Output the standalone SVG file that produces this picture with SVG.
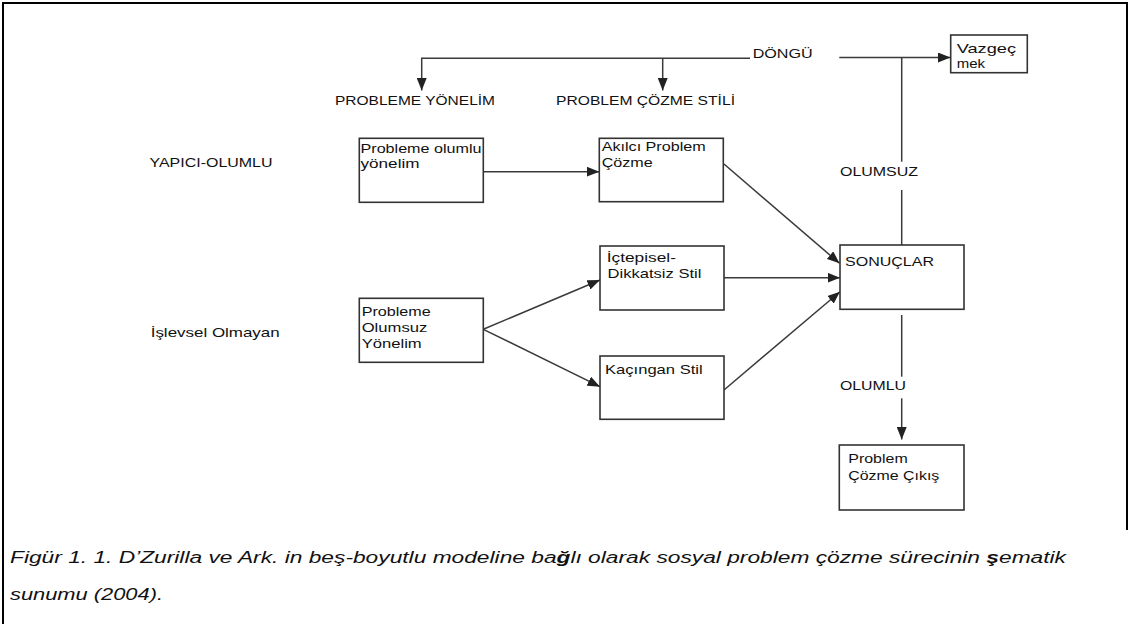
<svg xmlns="http://www.w3.org/2000/svg" width="1130" height="624" viewBox="0 0 1130 624">
<defs>
<marker id="ah" markerUnits="userSpaceOnUse" markerWidth="13" markerHeight="10" refX="12.5" refY="5" orient="auto">
<path d="M0,0 L12.5,5 L0,10 z" fill="#222"/>
</marker>
<style>
.box{fill:#fff;stroke:#333;stroke-width:1.6}
.t{font-family:"Liberation Sans",Arial,sans-serif;font-size:13px;fill:#111}
.c{fill:none;stroke:#3a3a3a;stroke-width:1.5}
.a{fill:none;stroke:#3a3a3a;stroke-width:1.5;marker-end:url(#ah)}
.cap{font-family:"Liberation Sans",Arial,sans-serif;font-size:16px;font-style:italic;fill:#111}
.frame{fill:none;stroke:#000;stroke-width:2}
</style>
</defs>
<rect width="1130" height="624" fill="#fff"/>
<g id="frame">
<path class="frame" d="M3,624 V3 H1127 V530"/>
</g>
<g id="connectors">
<path class="a" d="M750,58.3 H421.7 V90.5"/>
<path class="a" d="M662.7,58.3 V90.5"/>
<path class="a" d="M839.3,57.5 H950.5"/>
<path class="c" d="M901.7,57.5 V161.7"/>
<path class="c" d="M901.7,190 V245"/>
<path class="c" d="M901.7,315 V376.7"/>
<path class="a" d="M901.7,398.3 V439.5"/>
<path class="a" d="M483.3,171.7 H599.3"/>
<path class="a" d="M483.3,329.3 L600,280"/>
<path class="a" d="M483.3,329.3 L600,386.7"/>
<path class="a" d="M724,164 L839.5,263.3"/>
<path class="a" d="M724,277.7 H840"/>
<path class="a" d="M724,390 L840,291.7"/>
</g>
<g id="label-probleme-yonelim"><text class="t" x="335" y="105" textLength="160" lengthAdjust="spacingAndGlyphs">PROBLEME YÖNELİM</text></g>
<g id="label-problem-cozme-stili"><text class="t" x="556" y="105" textLength="179" lengthAdjust="spacingAndGlyphs">PROBLEM ÇÖZME STİLİ</text></g>
<g id="label-dongu"><text class="t" x="752.7" y="58" textLength="60" lengthAdjust="spacingAndGlyphs">DÖNGÜ</text></g>
<g id="label-olumsuz"><text class="t" x="840" y="175.7" textLength="78" lengthAdjust="spacingAndGlyphs">OLUMSUZ</text></g>
<g id="label-olumlu"><text class="t" x="840" y="390" textLength="66" lengthAdjust="spacingAndGlyphs">OLUMLU</text></g>
<g id="label-yapici"><text class="t" x="149.5" y="166.7" textLength="123" lengthAdjust="spacingAndGlyphs">YAPICI-OLUMLU</text></g>
<g id="label-islevsel"><text class="t" x="150.7" y="336.7" textLength="129" lengthAdjust="spacingAndGlyphs">İşlevsel Olmayan</text></g>
<g id="node-olumlu-yonelim">
<rect class="box" x="359.3" y="138.3" width="124" height="64"/>
<text class="t" x="360.5" y="153.3" textLength="121" lengthAdjust="spacingAndGlyphs">Probleme olumlu</text>
<text class="t" x="360.5" y="168.3" textLength="59" lengthAdjust="spacingAndGlyphs">yönelim</text>
</g>
<g id="node-akilci">
<rect class="box" x="599.3" y="138.3" width="124" height="63.4"/>
<text class="t" x="601.7" y="150.7" textLength="104" lengthAdjust="spacingAndGlyphs">Akılcı Problem</text>
<text class="t" x="601.7" y="166.7" textLength="51" lengthAdjust="spacingAndGlyphs">Çözme</text>
</g>
<g id="node-olumsuz-yonelim">
<rect class="box" x="359.3" y="298.3" width="124" height="64"/>
<text class="t" x="361.7" y="316" textLength="69" lengthAdjust="spacingAndGlyphs">Probleme</text>
<text class="t" x="361.7" y="331.7" textLength="65.6" lengthAdjust="spacingAndGlyphs">Olumsuz</text>
<text class="t" x="361.7" y="348.3" textLength="60" lengthAdjust="spacingAndGlyphs">Yönelim</text>
</g>
<g id="node-ictepisel">
<rect class="box" x="600" y="246" width="124" height="64"/>
<text class="t" x="606.7" y="261.7" textLength="69.3" lengthAdjust="spacingAndGlyphs">İçtepisel-</text>
<text class="t" x="607.5" y="278.3" textLength="94" lengthAdjust="spacingAndGlyphs">Dikkatsiz Stil</text>
</g>
<g id="node-kacingan">
<rect class="box" x="600" y="356" width="124" height="63.3"/>
<text class="t" x="605" y="374" textLength="97.7" lengthAdjust="spacingAndGlyphs">Kaçıngan Stil</text>
</g>
<g id="node-sonuclar">
<rect class="box" x="840" y="245" width="124" height="64.3"/>
<text class="t" x="845" y="266" textLength="89" lengthAdjust="spacingAndGlyphs">SONUÇLAR</text>
</g>
<g id="node-vazgecmek">
<rect class="box" x="950.7" y="35" width="76.6" height="37.7"/>
<text class="t" x="956.7" y="53.3" textLength="59.3" lengthAdjust="spacingAndGlyphs">Vazgeç</text>
<text class="t" x="956.7" y="68.3" textLength="28.3" lengthAdjust="spacingAndGlyphs">mek</text>
</g>
<g id="node-cikis">
<rect class="box" x="839.3" y="445" width="124.7" height="65"/>
<text class="t" x="848.3" y="463.3" textLength="59.4" lengthAdjust="spacingAndGlyphs">Problem</text>
<text class="t" x="848.3" y="480" textLength="91" lengthAdjust="spacingAndGlyphs">Çözme Çıkış</text>
</g>
<g id="caption">
<text class="cap" x="10" y="563" textLength="1056" lengthAdjust="spacingAndGlyphs">Figür 1. 1. D’Zurilla ve Ark. in beş-boyutlu modeline ba<tspan font-weight="bold">ğ</tspan>lı olarak sosyal problem çözme sürecinin <tspan font-weight="bold">ş</tspan>ematik</text>
<text class="cap" x="10" y="600" textLength="153" lengthAdjust="spacingAndGlyphs">sunumu (2004).</text>
</g>
</svg>
